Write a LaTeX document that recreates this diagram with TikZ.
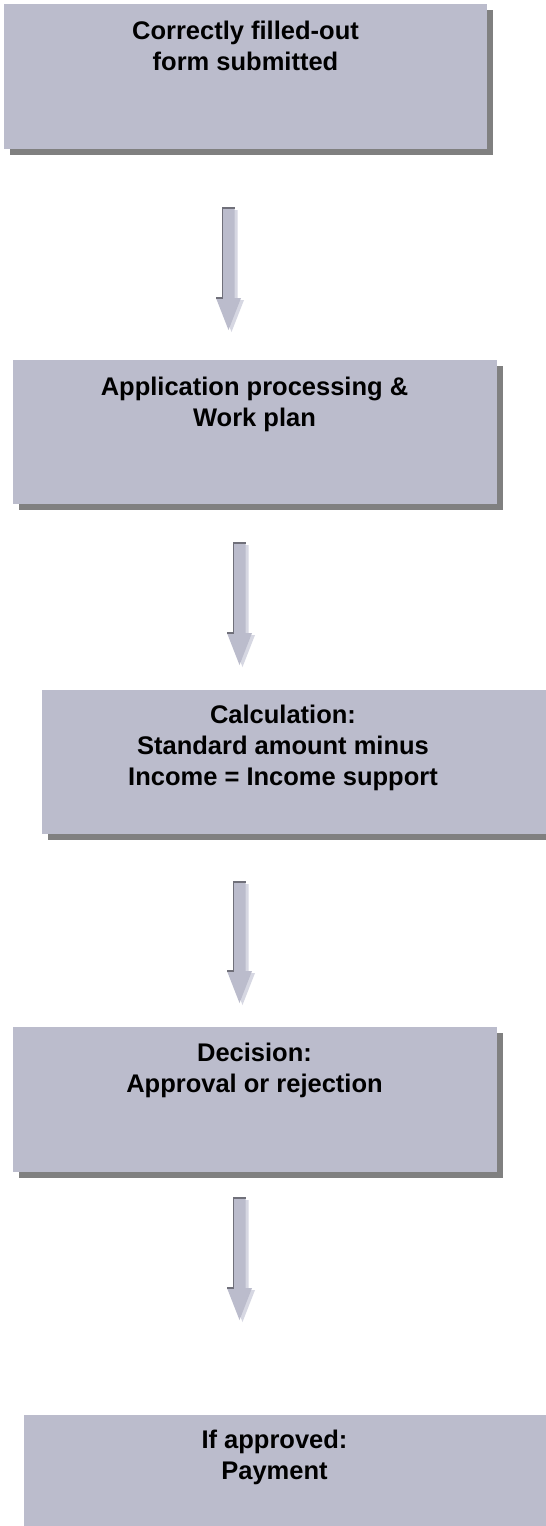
\documentclass[tikz,border=0pt]{standalone}
\usepackage{fontspec}
\setmainfont{Liberation Sans}
\usetikzlibrary{calc,shadows}
\definecolor{boxfill}{RGB}{187,188,204}
\definecolor{boxshadow}{RGB}{128,128,128}
\definecolor{arrowedge}{RGB}{112,112,122}
\definecolor{arrowshade}{RGB}{214,215,226}
\tikzset{
  flowbox/.style={rectangle, fill=boxfill, draw=none, anchor=north west, inner sep=0pt,
    general shadow={fill=boxshadow, shadow xshift=6pt, shadow yshift=-6pt}},
  flowtext/.style={anchor=north, inner sep=0pt, align=center,
    font=\fontsize{25.5}{31}\selectfont\bfseries, text=black},
}
\newcommand\flowarrow[2]{%
  \fill[arrowshade] ($(#1)+(-3,2)$) -- ($(#1)+(9,2)$) -- ($(#2)+(9,-30)$) -- ($(#2)+(15.5,-30)$)
     -- ($(#2)+(3,2)$) -- ($(#2)+(-9.5,-30)$) -- ($(#2)+(-3,-30)$) -- cycle;
  \fill[boxfill] ($(#1)+(-6,0)$) -- ($(#1)+(6,0)$) -- ($(#2)+(6,-32)$) -- ($(#2)+(12.5,-32)$)
     -- (#2) -- ($(#2)+(-12.5,-32)$) -- ($(#2)+(-6,-32)$) -- cycle;
  \draw[arrowedge, line width=1.5pt] ($(#2)+(-12.5,-32)$) -- ($(#2)+(-6,-32)$)
     -- ($(#1)+(-6,0)$) -- ($(#1)+(6,0)$);
}
\begin{document}
\begin{tikzpicture}[x=1pt,y=-1pt]
\useasboundingbox (0,0) rectangle (546,1526);
\clip (0,0) rectangle (546,1526);
\fill[white] (0,0) rectangle (546,1526);

\node[flowbox, minimum width=483pt, minimum height=145pt] (b1) at (4,4) {};
\node[flowbox, minimum width=484pt, minimum height=144pt] (b2) at (13,360) {};
\node[flowbox, minimum width=520pt, minimum height=144pt] (b3) at (42,690) {};
\node[flowbox, minimum width=484pt, minimum height=145pt] (b4) at (13,1027) {};
\node[flowbox, minimum width=540pt, minimum height=130pt] (b5) at (24,1415) {};

\node[flowtext] (t1) at (245.5,20.5) {Correctly filled-out\\form submitted};
\node[flowtext] (t2) at (254.5,376.5) {Application processing \&\\Work plan};
\node[flowtext] (t3) at (283,705) {Calculation:\\Standard amount minus\\Income = Income support};
\node[flowtext] (t4) at (254.5,1043) {Decision:\\Approval or rejection};
\node[flowtext] (t5) at (274.5,1429.5) {If approved:\\Payment};

\coordinate (a1s) at (228.5,208);  \coordinate (a1e) at (228.5,330);
\coordinate (a2s) at (239.5,543);  \coordinate (a2e) at (239.5,665);
\coordinate (a3s) at (239.5,882);  \coordinate (a3e) at (239.5,1003);
\coordinate (a4s) at (239.5,1198); \coordinate (a4e) at (239.5,1320);

\flowarrow{a1s}{a1e}
\flowarrow{a2s}{a2e}
\flowarrow{a3s}{a3e}
\flowarrow{a4s}{a4e}
\end{tikzpicture}
\end{document}
